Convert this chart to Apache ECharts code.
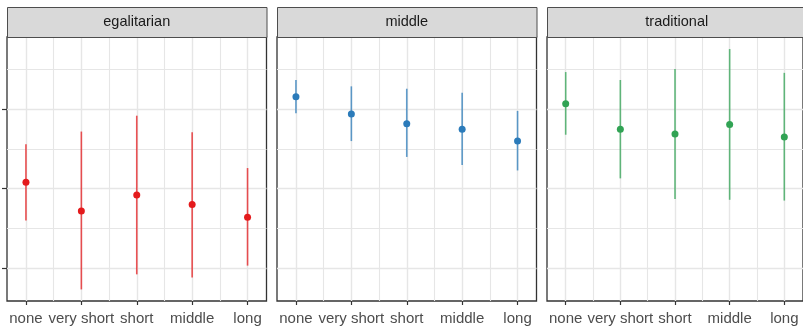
<!DOCTYPE html>
<html>
<head>
<meta charset="utf-8">
<script src="https://cdn.jsdelivr.net/npm/echarts@6/dist/echarts.min.js"></script>
<style>
  html, body { margin: 0; padding: 0; background: #ffffff; }
  #chart { width: 803px; height: 326px; }
</style>
</head>
<body>
<div id="chart"></div>
<script>
// ---- data ----
const categories = ['none', 'very short', 'short', 'middle', 'long'];
const panelNames = ['egalitarian', 'middle', 'traditional'];
const panelColors = ['#E41A1C', '#2B7BBA', '#31A354'];

const egalitarianMean = [2.08, 1.72, 1.92, 1.80, 1.64];
const egalitarianLow  = [1.60, 0.73, 0.92, 0.88, 1.03];
const egalitarianHigh = [2.56, 2.72, 2.92, 2.71, 2.26];

const middleMean = [3.16, 2.94, 2.82, 2.75, 2.60];
const middleLow  = [2.95, 2.60, 2.40, 2.30, 2.23];
const middleHigh = [3.37, 3.29, 3.26, 3.21, 2.98];

const traditionalMean = [3.07, 2.75, 2.69, 2.81, 2.65];
const traditionalLow  = [2.68, 2.13, 1.87, 1.86, 1.85];
const traditionalHigh = [3.47, 3.37, 3.51, 3.76, 3.46];

const yMajorTicks = [1, 2, 3];
const yMinorTicks = [1.5, 2.5, 3.5];
const xMinorTicks = [1.5, 2.5, 3.5, 4.5];

const panelMeans = [egalitarianMean, middleMean, traditionalMean];
const panelLows  = [egalitarianLow, middleLow, traditionalLow];
const panelHighs = [egalitarianHigh, middleHigh, traditionalHigh];

// ---- layout ----
const gridLefts = [7, 277, 547];
const gridTop = 37, gridHeight = 264, gridWidth = 259.5;
const stripTop = 7, stripHeight = 30;
const yMin = 0.584, yMax = 3.912;
const xMin = 0.658, xMax = 5.342;
const gridColor = '#e6e6e6';

const grids = [], xAxes = [], yAxes = [], series = [], graphics = [];
const xTickValues = categories.map((c, i) => i + 1);

panelNames.forEach((name, p) => {
  grids.push({
    left: gridLefts[p], top: gridTop, width: gridWidth, height: gridHeight,
    show: true, borderColor: '#333333', borderWidth: 1.3, backgroundColor: '#ffffff'
  });
  // main x axis
  xAxes.push({
    type: 'value', gridIndex: p, min: xMin, max: xMax, position: 'bottom',
    axisLine: { show: false },
    axisTick: { show: true, customValues: xTickValues, length: 4, lineStyle: { color: '#333333', width: 1.2 } },
    axisLabel: {
      show: true, customValues: xTickValues, margin: 10,
      formatter: v => categories[Math.round(v) - 1] || '',
      fontFamily: 'Liberation Sans, Arial, sans-serif', fontSize: 15, color: '#4d4d4d'
    },
    splitLine: { show: true, lineStyle: { color: gridColor, width: 1.4 } }
  });
  // minor x axis (grid lines only)
  xAxes.push({
    type: 'value', gridIndex: p, min: xMin, max: xMax, position: 'bottom',
    axisLine: { show: false },
    axisTick: { show: false, customValues: xMinorTicks },
    axisLabel: { show: false, customValues: xMinorTicks },
    splitLine: { show: true, lineStyle: { color: gridColor, width: 1.1 } }
  });
  // main y axis
  yAxes.push({
    type: 'value', gridIndex: p, min: yMin, max: yMax, position: 'left',
    axisLine: { show: false },
    axisTick: { show: p === 0, customValues: yMajorTicks, length: 5, lineStyle: { color: '#333333', width: 1.2 } },
    axisLabel: { show: false, customValues: yMajorTicks },
    splitLine: { show: true, lineStyle: { color: gridColor, width: 1.4 } }
  });
  // minor y axis
  yAxes.push({
    type: 'value', gridIndex: p, min: yMin, max: yMax, position: 'left',
    axisLine: { show: false },
    axisTick: { show: false, customValues: yMinorTicks },
    axisLabel: { show: false, customValues: yMinorTicks },
    splitLine: { show: true, lineStyle: { color: gridColor, width: 1.1 } }
  });

  const color = panelColors[p];
  const barData = categories.map((c, i) => [i + 1, panelLows[p][i], panelHighs[p][i]]);
  const pointData = categories.map((c, i) => [i + 1, panelMeans[p][i]]);

  series.push({
    type: 'custom', xAxisIndex: 2 * p, yAxisIndex: 2 * p,
    encode: { x: 0, y: [1, 2] },
    data: barData, z: 3, silent: true,
    renderItem: (params, api) => {
      const x = api.value(0);
      const lo = api.coord([x, api.value(1)]);
      const hi = api.coord([x, api.value(2)]);
      return {
        type: 'line',
        shape: { x1: lo[0], y1: lo[1], x2: hi[0], y2: hi[1] },
        style: { stroke: color, lineWidth: 1.6, opacity: 0.75 }
      };
    }
  });
  series.push({
    type: 'scatter', xAxisIndex: 2 * p, yAxisIndex: 2 * p,
    data: pointData, symbol: 'circle', symbolSize: 7, z: 4, silent: true,
    itemStyle: { color: color, opacity: 1 }
  });

  // strip
  graphics.push({
    type: 'rect', left: gridLefts[p], top: stripTop,
    shape: { width: gridWidth, height: stripHeight },
    style: { fill: '#d9d9d9', stroke: '#4d4d4d', lineWidth: 1 }, z: 10
  });
  graphics.push({
    type: 'text', x: gridLefts[p] + gridWidth / 2, y: stripTop + stripHeight / 2,
    style: {
      text: name, fill: '#1a1a1a', fontSize: 14.5,
      fontFamily: 'Liberation Sans, Arial, sans-serif',
      align: 'center', verticalAlign: 'middle'
    }, z: 11
  });
});

const chart = echarts.init(document.getElementById('chart'), null, { renderer: 'canvas' });
chart.setOption({
  backgroundColor: '#ffffff',
  animation: false,
  grid: grids,
  xAxis: xAxes,
  yAxis: yAxes,
  series: series,
  graphic: graphics
});
</script>
</body>
</html>
